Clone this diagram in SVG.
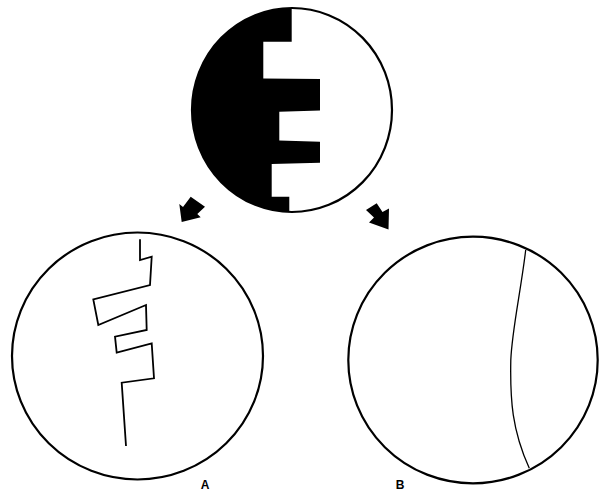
<svg xmlns="http://www.w3.org/2000/svg" width="600" height="491" viewBox="0 0 600 491">
<style>
.ring{fill:none;stroke:#000;stroke-width:2.2}
.trace{fill:none;stroke:#000;stroke-width:1.8;stroke-linejoin:miter}
.thin{fill:none;stroke:#000;stroke-width:1.3}
.arrow{fill:#000}
.lbl{font-family:"Liberation Sans",Arial,sans-serif;font-size:12px;font-weight:bold;fill:#000;text-anchor:middle}
</style>
<defs>
<clipPath id="topclip"><ellipse cx="292" cy="110" rx="100" ry="102"/></clipPath>
</defs>
<g id="top">
<path clip-path="url(#topclip)" fill="#000" d="M180,0 L291.7,0 L291.7,41.7 L263.3,41.7 L263.3,78.5 L320,79 L320,110.5 L279.3,111.7 L279.3,140.5 L320,141.7 L320,162.7 L271.7,164 L271.7,196.7 L289.3,196.7 L289.3,220 L180,220 Z"/>
<ellipse class="ring" cx="292" cy="110" rx="100" ry="102"/>
</g>
<g id="connectors">
<polygon class="arrow" points="179.3,204 183,207 190.7,196.7 205,206.7 197.3,214 200.7,217.3 181.7,222"/>
<polygon class="arrow" points="366,210 376.7,203.3 382.5,212 389,208.5 388.5,229.5 369,222.5 374,217.5"/>
</g>
<g id="A">
<ellipse class="ring" cx="137.5" cy="356" rx="125.5" ry="123.5"/>
<polyline class="trace" points="140,239.3 140,260 151.7,256.7 150,285 93.3,299.3 98.3,325 146,305 146.7,330 115,336.7 116.7,352.7 151.7,343.3 154,378.3 121.7,382.7 126,446"/>
<text class="lbl" x="205" y="489">A</text>
</g>
<g id="B">
<ellipse class="ring" cx="473" cy="360" rx="124.7" ry="123.3"/>
<path class="thin" d="M525.7,250 C521,290 512,330 510.8,360 C510,400 512,430 529.3,468.3"/>
<text class="lbl" x="400" y="489">B</text>
</g>
</svg>
